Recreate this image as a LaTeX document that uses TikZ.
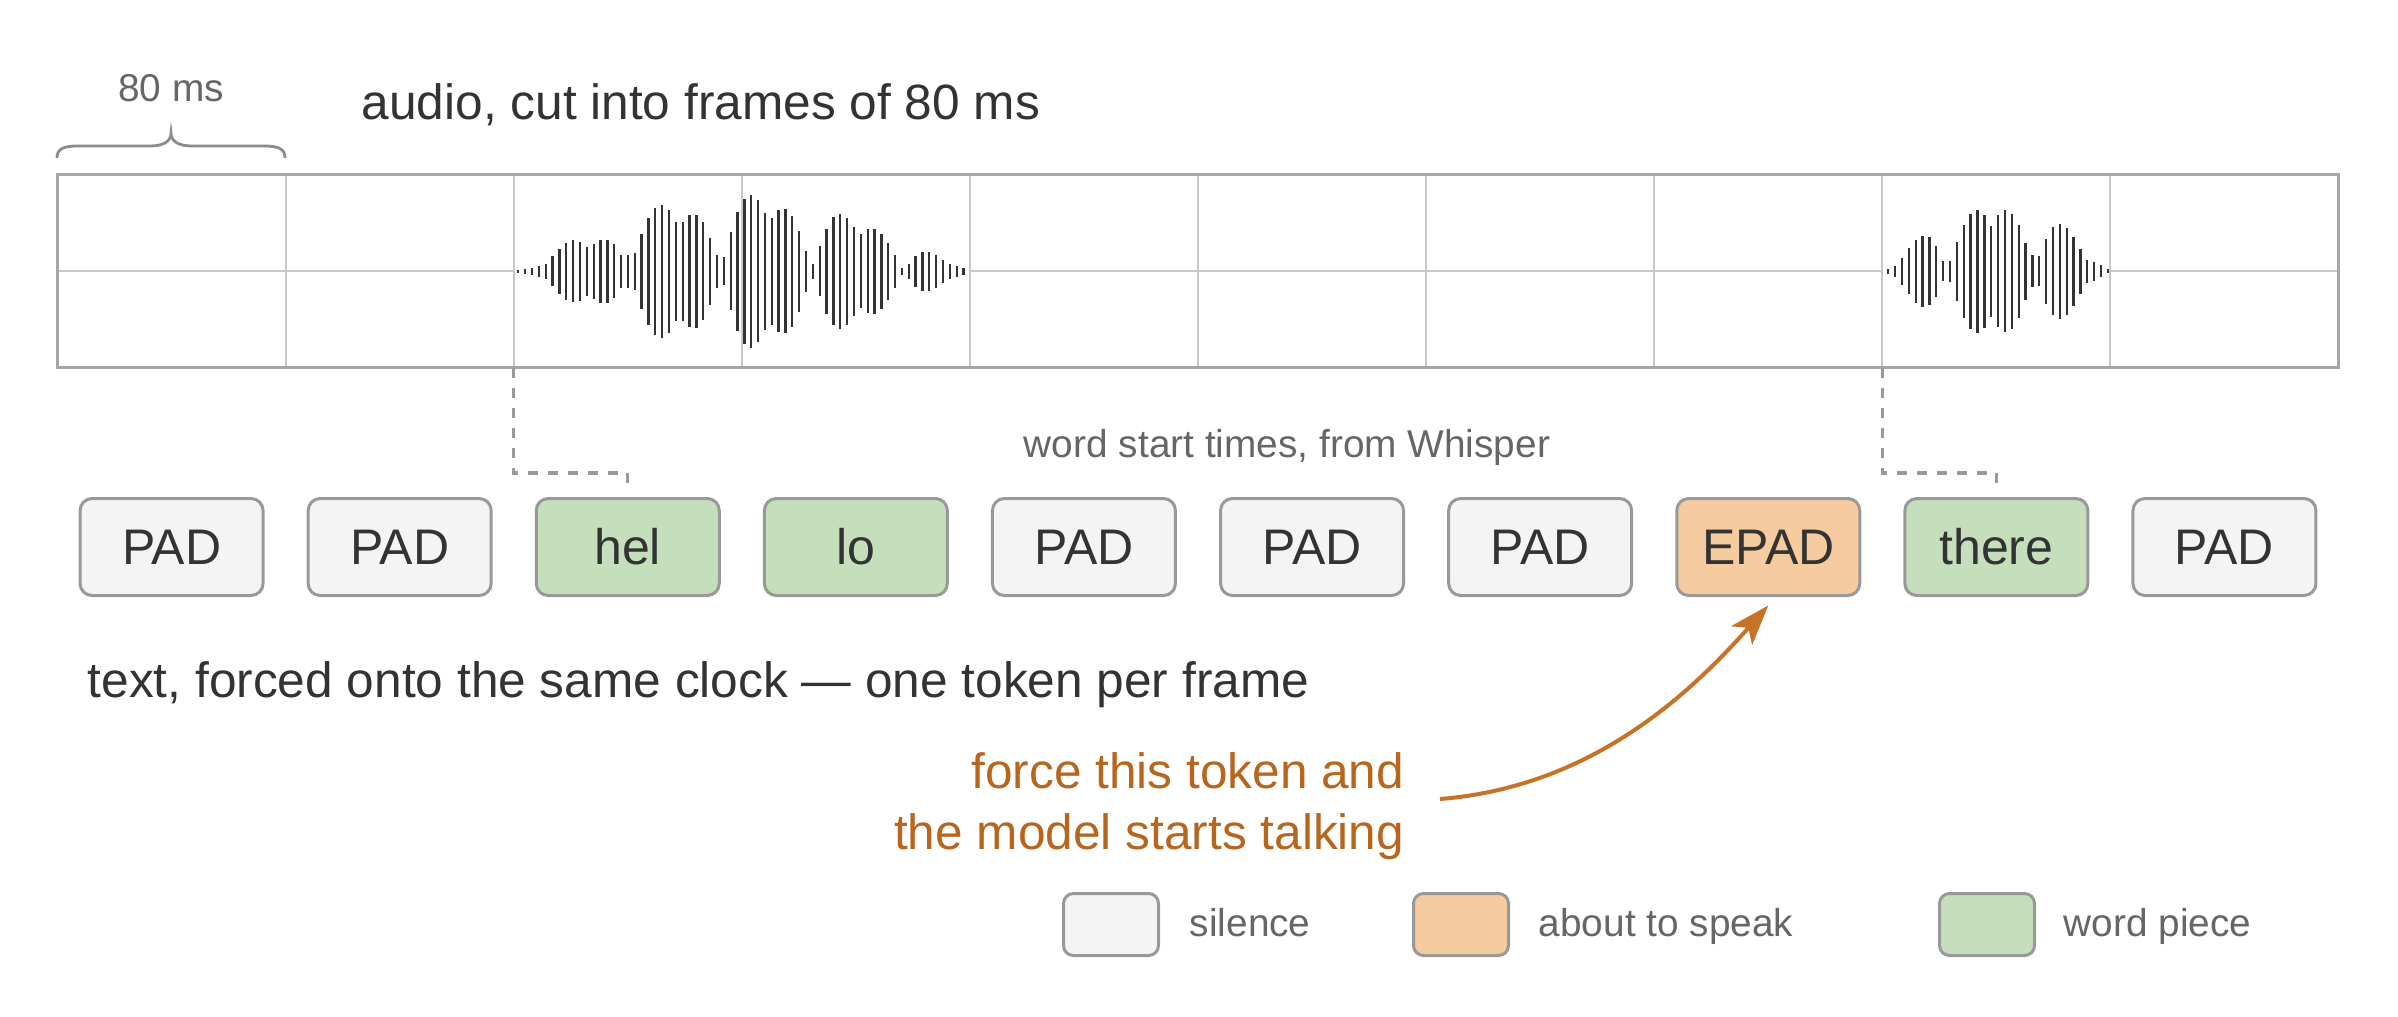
\documentclass[tikz,border=0pt]{standalone}
\usepackage{fontspec}
\setmainfont{Liberation Sans}
\usetikzlibrary{arrows.meta,calc}
\definecolor{txt}{HTML}{333333}
\definecolor{gtxt}{HTML}{666666}
\definecolor{gridc}{HTML}{C8C8C8}
\definecolor{framec}{HTML}{A6A6A6}
\definecolor{tokb}{HTML}{999999}
\definecolor{padf}{HTML}{F4F4F4}
\definecolor{wordf}{HTML}{C5DFBC}
\definecolor{epadf}{HTML}{F6CBA0}
\definecolor{wavec}{HTML}{333333}
\definecolor{bracec}{HTML}{8C8C8C}
\definecolor{notec}{HTML}{B8651E}
\definecolor{arrowc}{HTML}{C67328}
\tikzset{
  bigtxt/.style={font=\fontsize{12.4pt}{15.25pt}\selectfont, text=txt},
  smalltxt/.style={font=\fontsize{9.7pt}{11.5pt}\selectfont, text=gtxt},
  framecell/.style={minimum width=57.025pt, minimum height=48.25pt, inner sep=0pt, outer sep=0pt},
  tok/.style={draw=tokb, line width=0.75pt, rounded corners=3pt, minimum width=45.75pt, minimum height=24.25pt, inner sep=0pt, outer sep=0pt, font=\fontsize{12.5pt}{15pt}\selectfont, text=txt},
  padtok/.style={tok, fill=padf},
  wordtok/.style={tok, fill=wordf},
  epadtok/.style={tok, fill=epadf},
  legbox/.style={draw=tokb, line width=0.75pt, rounded corners=2.5pt, minimum width=23.75pt, minimum height=15.5pt, inner sep=0pt},
  conn/.style={draw=tokb, line width=0.8pt, dash pattern=on 2.5pt off 2.5pt},
  bar/.style={draw=wavec, line width=0.575pt},
  gridline/.style={draw=gridc, line width=0.5pt},
  midline/.style={draw=gridc, line width=0.65pt},
  framebox/.style={draw=framec, line width=0.9pt},
  bracestyle/.style={draw=bracec, line width=0.7pt},
  notearrow/.style={draw=arrowc, line width=1pt, -{Stealth[length=10pt,width=7pt,inset=2.5pt]}},
}
\begin{document}
\begin{tikzpicture}[x=0.25pt,y=-0.25pt]
\useasboundingbox[fill=white] (0,0) rectangle (2398,1017);
% frame cells
\foreach \i in {1,...,10}
  \node[framecell] (f\i) at ({57.5+228.1*(\i-0.5)},271) {};
% grid
\foreach \i in {1,...,9}
  \draw[gridline] (f\i.north east) -- (f\i.south east);
\draw[midline] (f1.west) -- (f2.east) (f5.west) -- (f8.east) (f10.west) -- (f10.east);
% waveform 1 ("hello")
\foreach \h [count=\k] in {1.3,2.3,3.7,5.3,7.3,15,22.3,28.7,31,29.7,24.3,27.3,31.7,31.7,27,16.7,16.7,18.7,37.7,53.7,63.3,66.3,61.7,49.3,49.3,56,56.3,49,33.3,16.7,14,39,59.3,72.3,76.3,71,58.3,53.3,61,62,55.3,40.3,20.3,7.3,25,42.3,54,57.3,53.3,44.3,37,42,42.3,37.3,28.3,16.7,3.3,7.3,15.3,19.3,19.3,16.7,11.7,7.3,5.7,3.3}
  \draw[bar] ({518.3+6.85*(\k-1)},{271.3-\h}) -- ++(0,{2*\h});
% waveform 2 ("there")
\foreach \h [count=\k] in {2.3,5.8,13.5,23,31.5,35.5,34,25.5,10,10.5,29.5,46.5,57.5,61.5,56.5,45.5,56,61,57.5,46.5,28.5,16,15,32.5,44,47.5,43.5,34.5,22.5,11.5,9.5,6,2}
  \draw[bar] ({1888.3+6.86*(\k-1)},{271.3-\h}) -- ++(0,{2*\h});
% outer frame
\draw[framebox] (f1.north west) rectangle (f10.south east);
% brace and labels
\draw[bracestyle] (57,158) .. controls (57,149) and (63,146) .. (78,146) -- (150,146) .. controls (164,146) and (171,141) .. (171,133) .. controls (171,141) and (178,146) .. (192,146) -- (264,146) .. controls (279,146) and (285,149) .. (285,158);
\node[smalltxt, anchor=base, inner sep=0pt] (lbl80) at (171,101) {80 ms};
\node[bigtxt, anchor=base west, inner sep=0pt] (title) at (361,119) {audio, cut into frames of 80 ms};
% tokens
\node[padtok]  (t1)  at ({57.5+228.1*0.5},547) {PAD};
\node[padtok]  (t2)  at ({57.5+228.1*1.5},547) {PAD};
\node[wordtok] (t3)  at ({57.5+228.1*2.5},547) {hel};
\node[wordtok] (t4)  at ({57.5+228.1*3.5},547) {lo};
\node[padtok]  (t5)  at ({57.5+228.1*4.5},547) {PAD};
\node[padtok]  (t6)  at ({57.5+228.1*5.5},547) {PAD};
\node[padtok]  (t7)  at ({57.5+228.1*6.5},547) {PAD};
\node[epadtok] (t8)  at ({57.5+228.1*7.5},547) {EPAD};
\node[wordtok] (t9)  at ({57.5+228.1*8.5},547) {there};
\node[padtok]  (t10) at ({57.5+228.1*9.5},547) {PAD};
% word-start connectors
\draw[conn] (f3.south west) -- ++(0,105.5) -| ([yshift=2pt]t3.north);
\draw[conn] (f9.south west) -- ++(0,105.5) -| ([yshift=2pt]t9.north);
\node[smalltxt, anchor=base, inner sep=0pt] (whisper) at (1287,457) {word start times, from Whisper};
% text line
\node[bigtxt, anchor=base west, inner sep=0pt] (clock) at (87,697) {text, forced onto the same clock — one token per frame};
% annotation
\node[bigtxt, text=notec, align=right, anchor=base east, inner sep=0pt] (note) at (1405,849) {force this token and\\the model starts talking};
\coordinate (nstart) at (1440,799);
\draw[notearrow] (nstart) .. controls (1590,787) and (1688,696) .. ([yshift=-2.5pt]t8.south);
% legend
\node[legbox, fill=padf]  (lg1) at (1111,924.5) {};
\node[smalltxt, anchor=base west, inner sep=0pt] (lt1) at (1189,936) {silence};
\node[legbox, fill=epadf] (lg2) at (1461,924.5) {};
\node[smalltxt, anchor=base west, inner sep=0pt] (lt2) at (1538,936) {about to speak};
\node[legbox, fill=wordf] (lg3) at (1987,924.5) {};
\node[smalltxt, anchor=base west, inner sep=0pt] (lt3) at (2063,936) {word piece};
\end{tikzpicture}
\end{document}
